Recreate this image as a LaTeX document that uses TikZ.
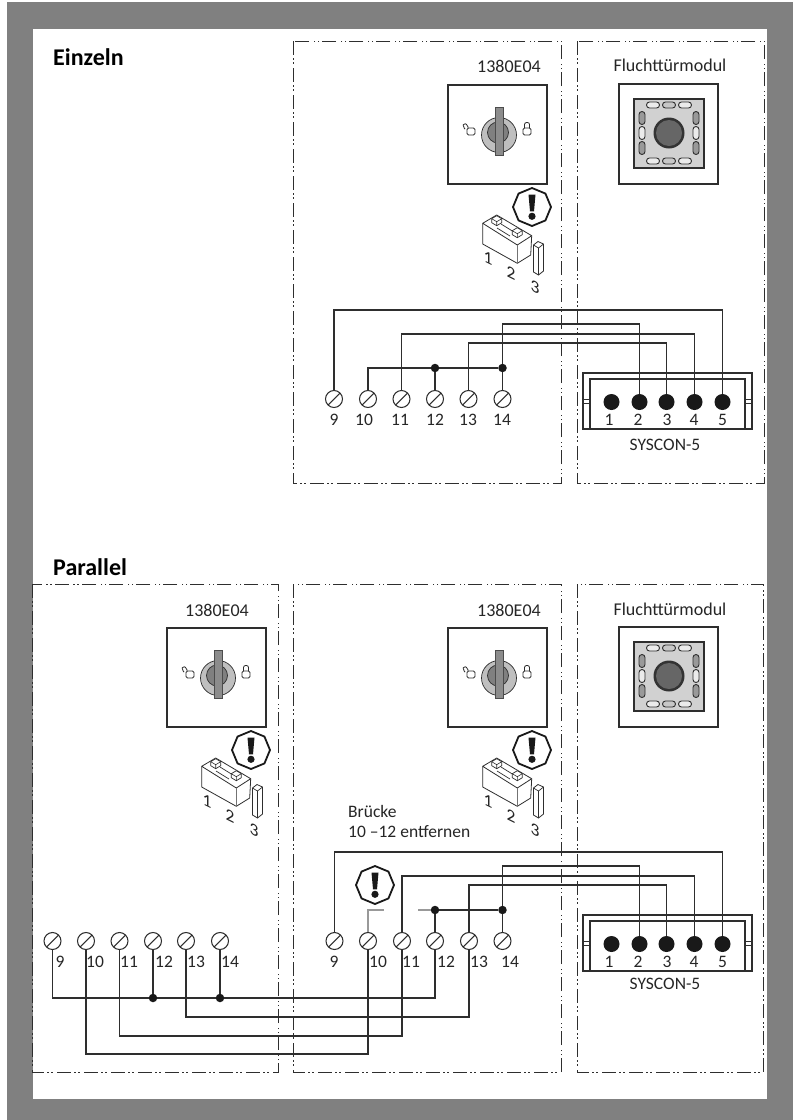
\documentclass[tikz,border=0pt]{standalone}
\usepackage{fontspec}
\setmainfont{Carlito}
\usetikzlibrary{shapes.geometric}
\definecolor{wirecol}{HTML}{2E2E2E}
\tikzset{
  frame/.style={draw=wirecol,line width=1pt,dash pattern=on 14pt off 3pt on 1.5pt off 2.5pt on 1.5pt off 4.5pt},
  wire/.style={draw=wirecol,line width=1.05pt},
  stub/.style={draw=black!40,line width=1.6pt},
  thin box/.style={draw=wirecol,line width=1.05pt},
  txt/.style={inner sep=0pt,text=black!85,font=\fontsize{17.5}{20}\selectfont},
  blockname/.style={inner sep=0pt,text=black!85,font=\fontsize{18}{20}\selectfont},
  heading/.style={inner sep=0pt,anchor=west,font=\fontsize{24}{28}\selectfont\bfseries},
  jumpnum/.style={txt,yslant=-0.5,transform shape},
  screw/.style={circle,draw=wirecol,line width=1.05pt,minimum size=17pt,inner sep=0pt,
    path picture={\draw[line width=1.05pt,wirecol] (path picture bounding box.south west) -- (path picture bounding box.north east);}},
  wiredot/.style={circle,fill=black!90,minimum size=8.5pt,inner sep=0pt},
  pin/.style={circle,fill=black!90,minimum size=16pt,inner sep=0pt},
  warn/.style={regular polygon,regular polygon sides=8,shape border rotate=22.5,draw=black!90,line width=1.8pt,fill=white,minimum size=38pt,inner sep=0pt},
  keyswitch/.pic={
    \draw[thin box,fill=white] (0,0) rectangle (99,99);
    \fill[black!25] (51,50) circle (17.5pt);
    \draw[wirecol,line width=.7pt] (51,50) circle (17.5pt);
    \filldraw[fill=black!50,draw=wirecol,line width=.7pt] (50,47.5) circle (10.5pt);
    \filldraw[fill=black!45,draw=black!70,line width=.7pt] (47,22) rectangle (55,70);
    \draw[wirecol,line width=.8pt,rounded corners=1.5pt] (19,43) rectangle (27,50);
    \draw[wirecol,line width=.8pt,rounded corners=1.8pt] (20,43) -- (20,40) -- (15.5,38) -- (15,42) -- (17,44);
    \draw[wirecol,line width=.8pt,rounded corners=1.5pt] (75,43) rectangle (83,50);
    \draw[wirecol,line width=.8pt,rounded corners=2pt] (76.5,43) -- (76.5,37.5) -- (81.5,37.5) -- (81.5,43);
    \draw[wirecol,line width=.8pt,fill=white,line join=round] (34.7,138.3) -- (48.7,130) -- (83.7,150.7) -- (69.3,160) -- cycle;
    \draw[wirecol,line width=.8pt,line join=round] (34.7,138.3) -- (34.7,159) -- (69.3,178.3) -- (82.7,170) -- (83.7,150.7);
    \draw[black!55,line width=.8pt] (69.3,160) -- (69.3,178.3);
    \draw[wirecol,line width=.7pt] (53,139) -- (66,147) (49,143) -- (62,151);
    \foreach \x/\y in {48.7/135.7,69.3/147.7}{
      \filldraw[fill=white,draw=wirecol,line width=.7pt,line join=round] (\x-5,\y-2) -- (\x,\y-5) -- (\x+5,\y-2) -- (\x+5,\y+2) -- (\x,\y+5) -- (\x-5,\y+2) -- cycle;
      \draw[wirecol,line width=.6pt] (\x-5,\y-2) -- (\x,\y+1) -- (\x+5,\y-2) (\x,\y+1) -- (\x,\y+5);
    }
    \draw[wirecol,line width=.8pt,line join=round] (85.5,160) -- (90,156.5) -- (95.5,159) -- (95.5,186) -- (90.5,190) -- (85.5,187) -- cycle;
    \draw[wirecol,line width=.7pt] (85.5,160) -- (90.5,163) -- (95.5,159) (90.5,163) -- (90.5,190);
    \node[jumpnum] (n1) at (40,173) {1};
    \node[jumpnum] (n2) at (63,188) {2};
    \node[jumpnum] (n3) at (87,202) {3};
    \pic at (84,122) {warnsign};
  },
  warnsign/.pic={
    \node[warn] (sign) at (0,0) {};
    \fill[black!90] (-3.5,-12.5) -- (3.5,-12.5) -- (2,4.3) -- (-2,4.3) -- cycle;
    \fill[black!90] (0,9.3) circle (3.6pt);
  },
  doormodule/.pic={
    \draw[thin box,fill=white] (0,0) rectangle (99,100);
    \filldraw[fill=black!18,draw=wirecol,line width=1.05pt] (15,15) rectangle (85,84);
    \fill[black!80] (50,49) circle (15.5pt);
    \fill[black!60] (50,49) circle (13pt);
    \begin{scope}[shift={(50,49)},line width=.9pt,rounded corners=3pt,draw=wirecol]
      \foreach \x/\c in {-16/black!8,0/black!22,16/black!8}{
        \filldraw[fill=\c] (\x-6.5,-31) rectangle (\x+6.5,-25);
        \filldraw[fill=\c] (\x-6.5,25) rectangle (\x+6.5,31);
      }
      \foreach \y/\c in {-15/black!40,0/black!8,15/black!40}{
        \filldraw[fill=\c] (-30,\y-6.5) rectangle (-24,\y+6.5);
        \filldraw[fill=\c] (24,\y-6.5) rectangle (30,\y+6.5);
      }
    \end{scope}
  },
  syscon/.pic={
    \draw[thin box] (0,0) rectangle (169,56);
    \draw[thin box] (7,56) -- (7,6) -- (162,6) -- (162,56);
    \draw[wirecol,line width=.8pt] (0,26) -- (7,26) (0,30.5) -- (7,30.5) (162,26) -- (169,26) (162,30.5) -- (169,30.5);
    \foreach \i/\x/\lx in {1/28.5/26,2/56.5/55,3/83.5/84,4/111.5/111,5/139.5/139.5}{
      \node[pin] (p\i) at (\x,29) {};
      \node[txt] (t\i) at (\lx,47) {\i};
    }
  },
}
\begin{document}
\begin{tikzpicture}[x=1pt,y=-1pt]
\useasboundingbox (0,0) rectangle (797,1120);
\fill[black!50] (7,2) rectangle (793,1120);
\fill[white] (33,29) rectangle (767,1099);

\node[heading] (einzeln) at (53,57) {Einzeln};
\node[heading] (parallel) at (53,567) {Parallel};

\draw[frame] (293,41) rectangle (561,483);
\draw[frame] (577,41) rectangle (764,483);
\draw[frame] (32,584) rectangle (278,1072);
\draw[frame] (293,584) rectangle (561,1072);
\draw[frame] (577,584) rectangle (763.5,1072);

\node[blockname] (ctrl) at (509,66) {1380E04};
\node[blockname] (door) at (670,65) {Fluchttürmodul};
\node[blockname] (ctrlL) at (217,610) {1380E04};
\node[blockname] (ctrlM) at (509,610) {1380E04};
\node[blockname] (doorP) at (670,609) {Fluchttürmodul};
\node[txt,align=left,anchor=north west] (hint) at (348,805) {Brücke\\10 –12 entfernen};

\pic (ke) at (448,85) {keyswitch};
\pic (kl) at (167,628) {keyswitch};
\pic (km) at (448,628) {keyswitch};
\pic (fe) at (619,84) {doormodule};
\pic (fp) at (619,627) {doormodule};
\pic (se) at (583,373) {syscon};
\pic (sp) at (583,915) {syscon};
\node[txt] (conE) at (665,445) {SYSCON-5};
\node[txt] (conP) at (665,984) {SYSCON-5};

% Einzeln
\foreach \n/\x/\lx in {9/334/334,10/368/364,11/401.5/400,12/435/435,13/468.5/468,14/502.5/502}{
  \node[screw] (e\n) at (\x,399) {};
  \node[txt] (te\n) at (\lx,420) {\n};
}
\node[wiredot] (e12d) at (435,368) {};
\node[wiredot] (e14d) at (502.5,368) {};
\draw[wire] (e9) -- ++(0,-89) -| (sep5);
\draw[wire] (e14) -- (e14d) -- ++(0,-44) -| (sep2);
\draw[wire] (e11) -- ++(0,-65) -| (sep4);
\draw[wire] (e13) -- ++(0,-56) -| (sep3);
\draw[wire] (e10) |- (e12d) -- (e14d);
\draw[wire] (e12) -- (e12d);

% Parallel
\foreach \n/\x/\lx in {9/52.5/60,10/86/95,11/119.5/129,12/153/164,13/186/196,14/220/230}{
  \node[screw] (l\n) at (\x,941) {};
  \node[txt] (tl\n) at (\lx,962) {\n};
}
\foreach \n/\x/\lx in {9/334.5/334,10/368/378,11/402/411,12/435/446,13/469/479,14/502.5/510}{
  \node[screw] (m\n) at (\x,941) {};
  \node[txt] (tm\n) at (\lx,962) {\n};
}
\pic at (375,885) {warnsign};
\coordinate (gapA) at (384,910);
\coordinate (gapB) at (418,910);
\node[wiredot] (m12d) at (435,910) {};
\node[wiredot] (m14d) at (502.5,910) {};
\node[wiredot] (l12d) at (153,998) {};
\node[wiredot] (l14d) at (220,998) {};
\draw[stub] (m10) |- (gapA);
\draw[stub] (m12d) -- (gapB);
\draw[wire] (m9) -- ++(0,-89) -| (spp5);
\draw[wire] (m14) -- (m14d) -- ++(0,-44) -| (spp2);
\draw[wire] (m11) -- ++(0,-65) -| (spp4);
\draw[wire] (m13) -- ++(0,-56) -| (spp3);
\draw[wire] (m12) -- (m12d) -- (m14d);
\draw[wire] (l9) |- (l12d) -- (l14d) -| (m12);
\draw[wire] (l12) -- (l12d);
\draw[wire] (l14) -- (l14d);
\draw[wire] (l13) -- ++(0,76) -| (m13);
\draw[wire] (l11) -- ++(0,95) -| (m11);
\draw[wire] (l10) -- ++(0,113) -| (m10);
\end{tikzpicture}
\end{document}
